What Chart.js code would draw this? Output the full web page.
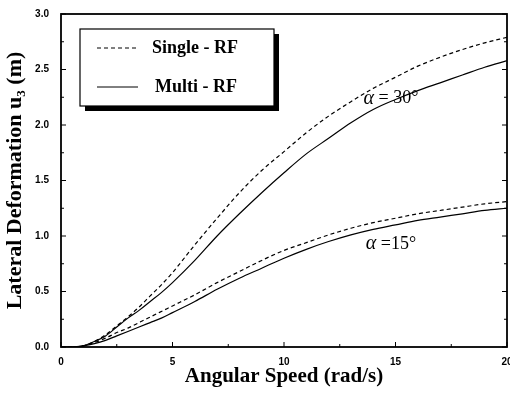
<!DOCTYPE html>
<html>
<head>
<meta charset="utf-8">
<script src="https://cdn.jsdelivr.net/npm/chart.js@4"></script>
<style>
  html, body { margin: 0; padding: 0; background: #fff; }
  #wrap { width: 510px; height: 393px; }
</style>
</head>
<body>
<div id="wrap"><canvas id="chart" width="510" height="393"></canvas></div>
<script>
const speeds = [0, 0.5, 1, 1.5, 2, 2.5, 3, 3.5, 4, 4.5, 5, 6, 7, 8, 9, 10, 11, 12, 13, 14, 15, 16, 17, 18, 19, 20];
const single30 = [0, 0, 0.01, 0.05, 0.11, 0.19, 0.27, 0.36, 0.46, 0.56, 0.67, 0.92, 1.16, 1.39, 1.59, 1.76, 1.93, 2.08, 2.21, 2.33, 2.43, 2.53, 2.61, 2.68, 2.74, 2.79];
const multi30  = [0, 0, 0.01, 0.05, 0.1, 0.18, 0.26, 0.33, 0.41, 0.49, 0.58, 0.78, 1.0, 1.2, 1.39, 1.57, 1.74, 1.88, 2.02, 2.14, 2.23, 2.31, 2.38, 2.45, 2.52, 2.58];
const single15 = [0, 0, 0.01, 0.04, 0.08, 0.13, 0.17, 0.22, 0.27, 0.32, 0.37, 0.47, 0.58, 0.68, 0.78, 0.87, 0.94, 1.01, 1.07, 1.12, 1.16, 1.2, 1.23, 1.26, 1.29, 1.31];
const multi15  = [0, 0, 0.01, 0.03, 0.06, 0.1, 0.14, 0.18, 0.22, 0.26, 0.31, 0.41, 0.52, 0.62, 0.71, 0.8, 0.88, 0.95, 1.01, 1.06, 1.1, 1.14, 1.17, 1.2, 1.23, 1.25];
const legendLabels = ["Single - RF", "Multi - RF"];
const notes = [
  { text: "= 30\u00b0", x: 14.8, y: 2.24 },
  { text: "=15\u00b0", x: 14.8, y: 0.93 }
];

const pts = ys => speeds.map((x, i) => ({ x: x, y: ys[i] }));
const dash = [4, 3];

const serif = "'Liberation Serif', 'DejaVu Serif', serif";
const sans = "'Liberation Sans', Arial, sans-serif";

// frame, inward ticks, legend box and the alpha notes
const decor = {
  id: "decor",
  afterDraw(chart) {
    const { ctx, chartArea: a, scales } = chart;
    ctx.save();
    ctx.strokeStyle = "#000";
    ctx.lineWidth = 1.8;
    ctx.strokeRect(a.left, a.top, a.right - a.left, a.bottom - a.top);

    ctx.lineWidth = 1;
    for (let v = 0; v <= 20.001; v += 2.5) {
      const px = scales.x.getPixelForValue(v);
      const len = v % 5 === 0 ? 5 : 3;
      ctx.beginPath();
      ctx.moveTo(px, a.bottom); ctx.lineTo(px, a.bottom - len);
      ctx.stroke();
    }
    for (let v = 0; v <= 3.001; v += 0.25) {
      const py = scales.y.getPixelForValue(v);
      const len = Math.abs(v * 2 - Math.round(v * 2)) < 0.01 ? 5 : 3;
      ctx.beginPath();
      ctx.moveTo(a.left, py); ctx.lineTo(a.left + len, py);
      ctx.moveTo(a.right, py); ctx.lineTo(a.right - len, py);
      ctx.stroke();
    }

    // legend
    const bx = a.left + 19, by = a.top + 15, bw = 194, bh = 77;
    ctx.fillStyle = "#000";
    ctx.fillRect(bx + 5, by + 5, bw, bh);
    ctx.fillStyle = "#fff";
    ctx.fillRect(bx, by, bw, bh);
    ctx.lineWidth = 1.2;
    ctx.strokeRect(bx, by, bw, bh);
    ctx.font = "bold 18px " + serif;
    ctx.textBaseline = "middle";
    ctx.fillStyle = "#000";
    legendLabels.forEach((t, i) => {
      const ly = by + 19 + i * 39;
      ctx.setLineDash(chart.data.datasets[i].borderDash || []);
      ctx.lineWidth = 1;
      ctx.beginPath();
      ctx.moveTo(bx + 17, ly); ctx.lineTo(bx + 58, ly);
      ctx.stroke();
      ctx.setLineDash([]);
      ctx.fillText(t, bx + 72 + i * 3, ly);
    });

    // notes: italic alpha followed by the rest
    notes.forEach(n => {
      const px = scales.x.getPixelForValue(n.x), py = scales.y.getPixelForValue(n.y);
      ctx.font = "italic 20px " + serif;
      const aw = ctx.measureText("\u03b1").width;
      ctx.font = "18px " + serif;
      const rw = ctx.measureText(" " + n.text).width;
      const x0 = px - (aw + rw) / 2;
      ctx.font = "italic 20px " + serif;
      ctx.fillText("\u03b1", x0, py);
      ctx.font = "18px " + serif;
      ctx.fillText(" " + n.text, x0 + aw, py);
    });
    ctx.restore();
  }
};

new Chart(document.getElementById("chart"), {
  type: "line",
  data: {
    datasets: [
      { label: "Single - RF", data: pts(single30), borderDash: dash },
      { label: "Multi - RF", data: pts(multi30) },
      { label: "Single - RF 15", data: pts(single15), borderDash: dash },
      { label: "Multi - RF 15", data: pts(multi15) }
    ].map(d => Object.assign({
      borderColor: "#000",
      borderWidth: 1.2,
      pointRadius: 0,
      fill: false,
      cubicInterpolationMode: "monotone"
    }, d))
  },
  options: {
    responsive: false,
    animation: false,
    layout: { padding: { top: 14, right: 3, left: 0, bottom: 0 } },
    plugins: { legend: { display: false }, tooltip: { enabled: false } },
    scales: {
      x: {
        type: "linear",
        min: 0, max: 20,
        ticks: { stepSize: 5, color: "#000", font: { family: sans, size: 10, weight: "bold" }, padding: 1 },
        grid: { display: false },
        border: { display: false },
        title: { display: true, text: "Angular Speed (rad/s)", color: "#000", font: { family: serif, size: 21, weight: "bold" }, padding: { top: 1 } },
        afterFit: s => { s.height = 46; s.paddingRight = 0; s.paddingLeft = 0; }
      },
      y: {
        min: 0, max: 3,
        ticks: { stepSize: 0.5, color: "#000", font: { family: sans, size: 10, weight: "bold" }, padding: 4, callback: v => v.toFixed(1) },
        grid: { display: false },
        border: { display: false },
        title: { display: true, text: "Lateral Deformation u\u2083 (m)", color: "#000", font: { family: serif, size: 22, weight: "bold" }, padding: { top: 2, bottom: 2 } },
        afterFit: s => { s.width = 61; s.paddingTop = 0; s.paddingBottom = 0; }
      }
    }
  },
  plugins: [decor]
});
</script>
</body>
</html>
